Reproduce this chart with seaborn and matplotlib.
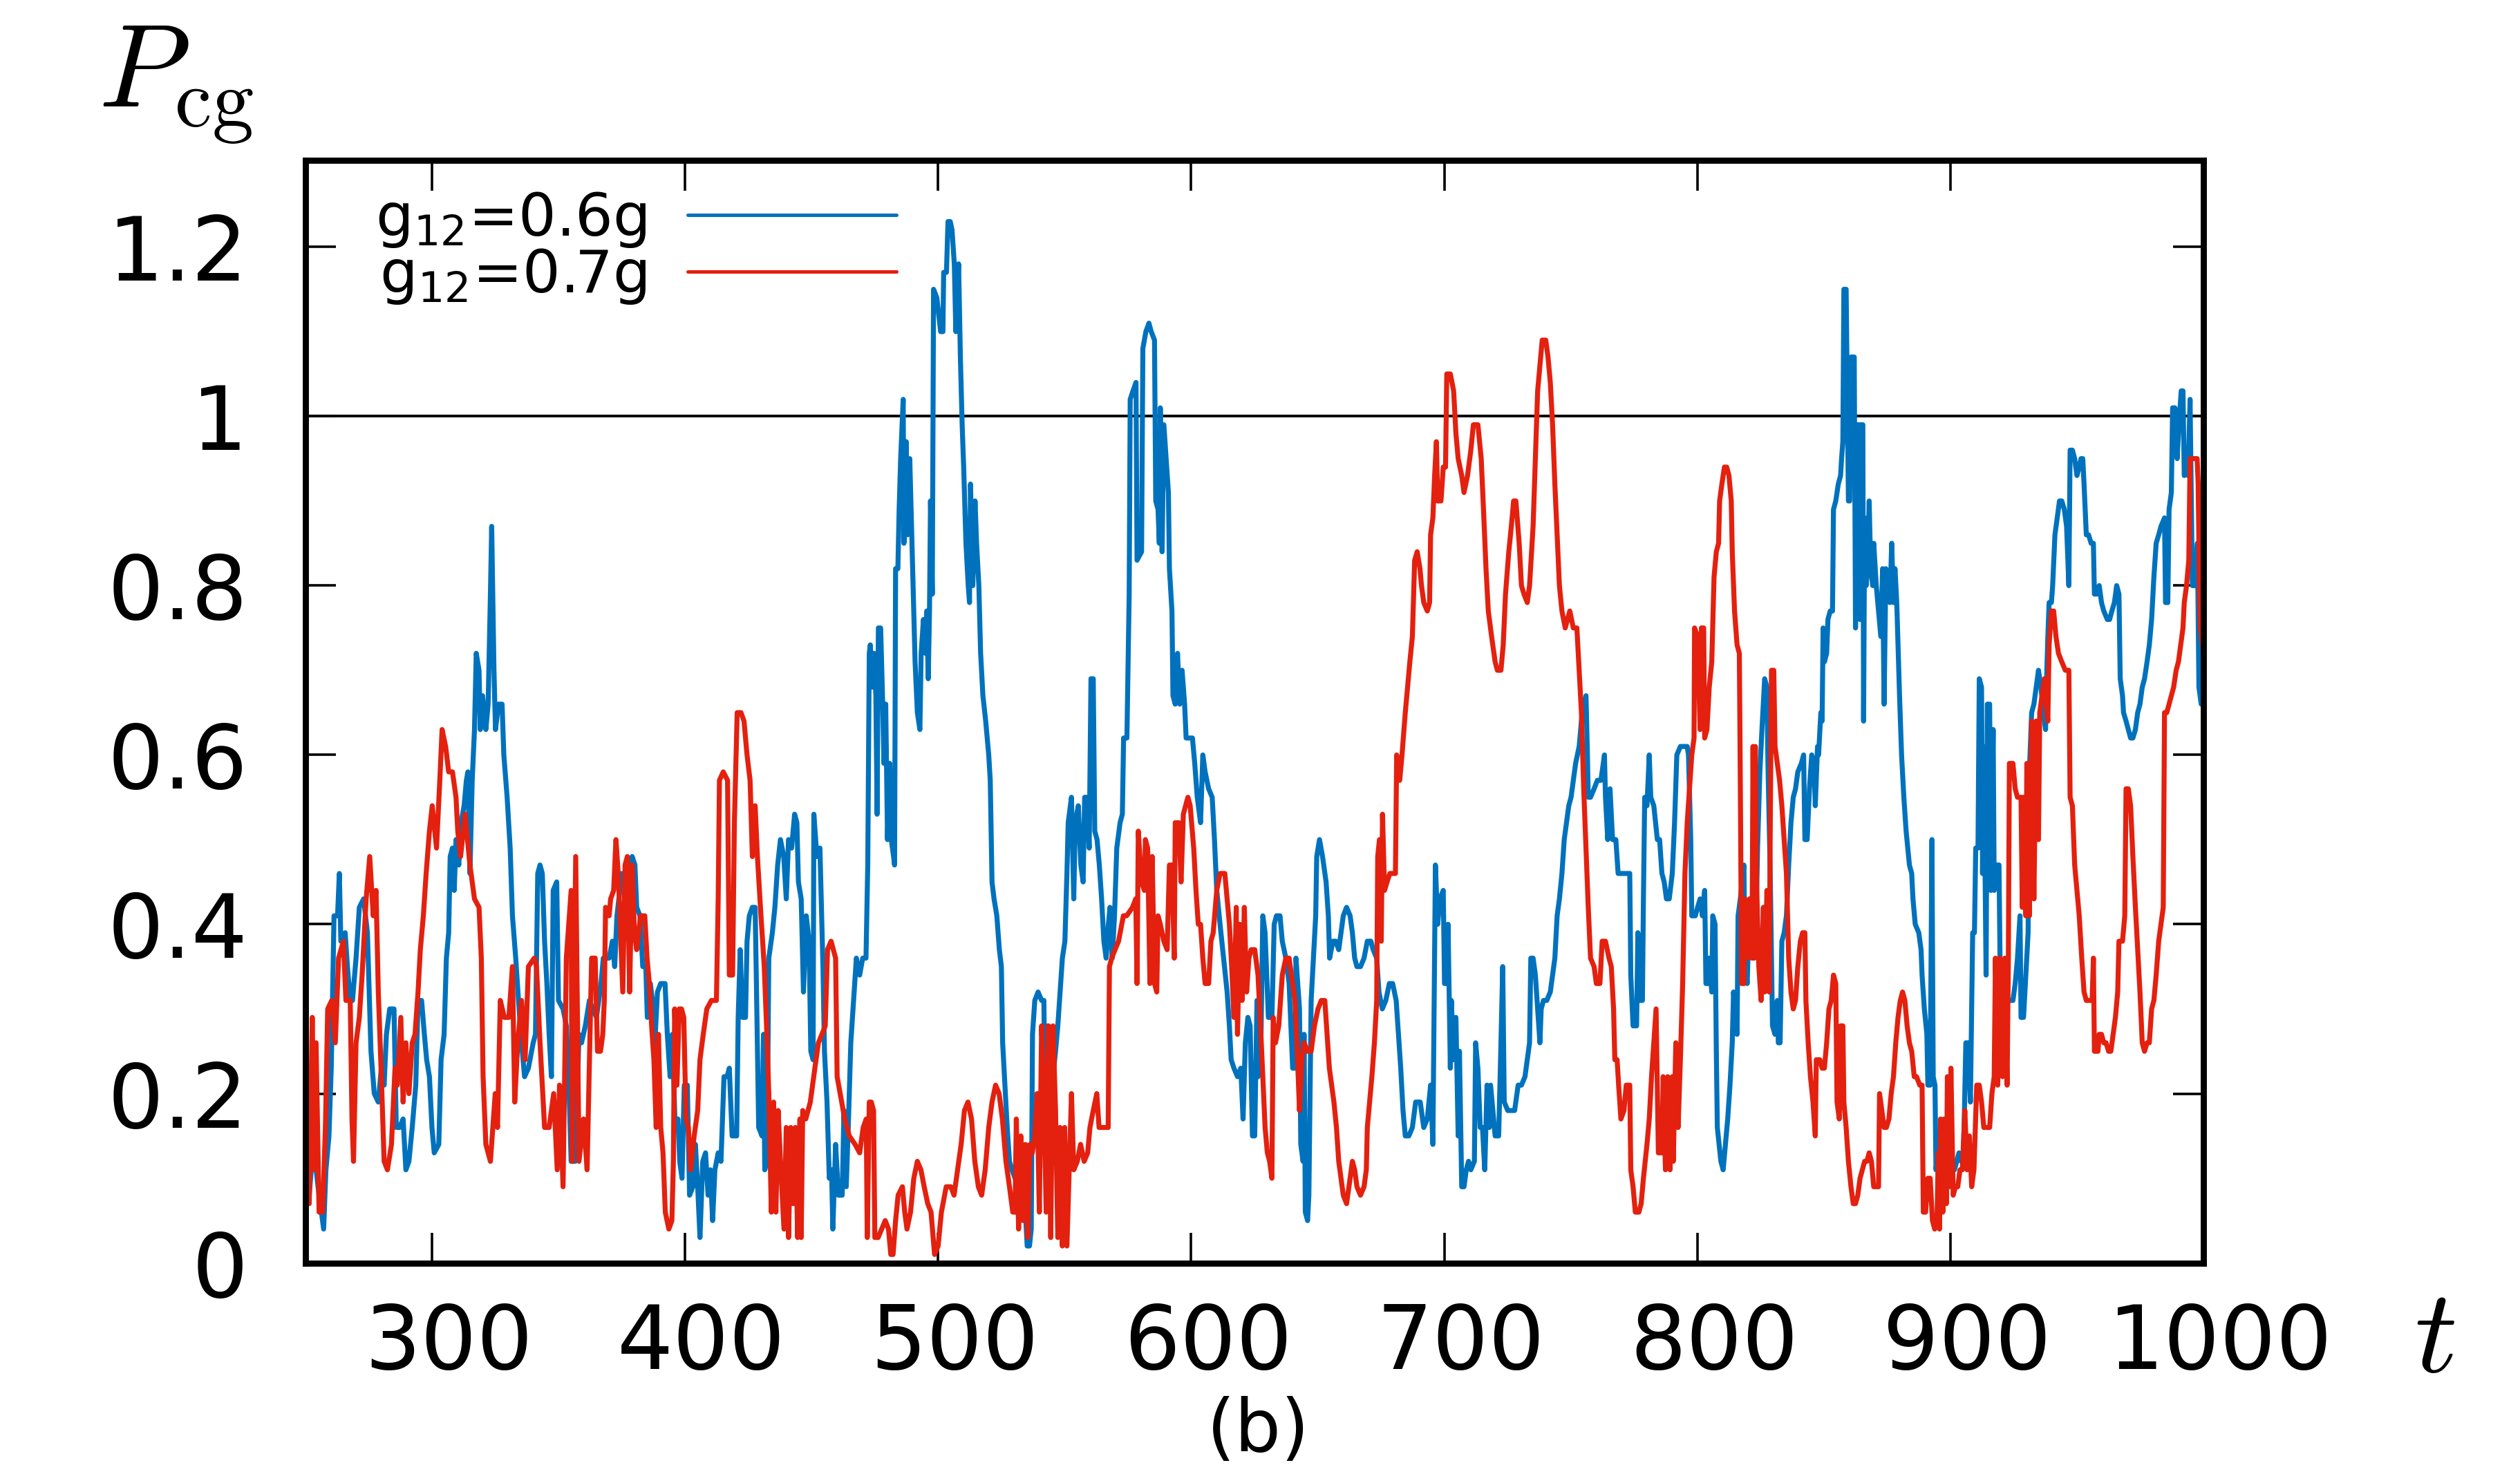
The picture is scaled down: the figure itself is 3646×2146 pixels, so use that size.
import matplotlib
matplotlib.use("Agg")
import matplotlib.pyplot as plt
import matplotlib.transforms as mtransforms
import pandas as pd
import seaborn as sns

# g12 = 0.6g (blue)
t_06 = [
    250.5, 251.5, 253.1, 255.0, 257.2, 258.1, 259.3, 260.2, 261.3, 262.7, 263.4, 264.0,
    265.7, 266.6, 267.7, 268.6, 270.0, 271.3, 273.0, 274.5, 275.9, 277.2, 278.8, 280.0,
    281.1, 282.0, 283.3, 285.0, 285.9, 287.2, 288.6, 289.7, 290.9, 292.2, 293.6, 294.5,
    295.9, 297.0, 297.9, 299.0, 300.0, 300.9, 302.7, 303.6, 304.8, 305.7, 306.6, 307.2,
    308.1, 308.8, 309.5, 310.6, 311.5, 312.7, 313.6, 314.2, 315.0, 315.9, 316.8, 317.5,
    318.6, 319.1, 320.0, 321.3, 322.2, 323.1, 323.6, 324.5, 325.1, 326.3, 327.7, 328.4,
    329.7, 330.9, 331.8, 333.1, 334.2, 335.4, 336.6, 338.1, 340.0, 340.9, 341.8, 342.7,
    343.6, 344.5, 345.4, 346.3, 347.2, 347.9, 349.3, 350.0, 351.8, 353.1, 354.0, 355.0,
    356.6, 358.1, 359.1, 360.6, 362.2,
    365.0, 366.8, 367.7, 370.0, 371.3, 372.2, 373.1, 375.0, 376.8, 378.1, 379.1, 380.2,
    380.9, 382.2, 383.3, 384.5, 385.1, 386.3, 387.5, 387.9, 389.1, 390.4, 392.1, 393.0,
    394.1, 395.0, 396.1, 397.2, 397.9, 398.8, 399.7, 400.9, 401.8, 403.1, 404.1, 405.0,
    405.9, 407.0, 408.1, 409.1, 410.0, 410.9, 411.8, 413.1, 414.2, 415.4, 416.6, 417.5,
    418.6, 420.4, 421.0, 421.8, 422.7, 423.9, 424.5, 425.4, 426.6, 427.7, 428.2, 429.1,
    430.4, 431.0, 431.5, 432.4, 433.1, 434.5, 435.5, 436.6, 437.7, 439.0, 440.0, 440.9,
    442.1, 443.3, 444.2, 444.8, 445.9, 446.8, 447.9, 449.0, 449.7, 450.6, 450.9, 452.1,
    453.3, 454.5, 455.1, 456.1, 457.0, 457.9, 458.4, 459.5, 460.6, 462.1, 462.8, 463.7,
    464.6, 465.5, 466.6, 467.7, 469.0, 470.2, 471.5, 472.2, 472.8,
    473.2, 474.1, 474.7, 475.4, 475.9, 476.4, 477.3, 478.2, 478.6, 479.3, 480.0, 480.9,
    481.5, 482.4, 482.8, 483.2, 484.1, 484.6, 485.2, 486.2, 486.5, 487.0, 487.4, 487.9,
    488.8, 489.5, 490.1, 490.9, 491.8, 492.8, 493.3, 494.2, 495.0, 495.5, 496.1, 496.6,
    497.0, 497.7, 498.2, 499.5, 501.0, 501.9, 502.2, 503.3, 503.9, 504.8, 505.5, 506.4,
    507.0, 507.5, 508.1, 508.8, 509.5, 510.1, 511.0, 511.9, 512.4, 512.8, 513.7, 514.6,
    515.2, 516.1, 516.8, 517.7, 518.8, 520.0, 520.6, 521.3, 522.1, 523.2, 524.2, 525.0,
    525.5, 526.4, 527.3, 528.2, 529.2, 530.4, 531.3, 532.2, 533.3, 534.5, 535.2, 536.1,
    536.8, 537.3, 538.2, 539.5, 540.9, 541.8, 542.2, 542.8, 543.3, 544.5, 545.4, 546.4,
    547.3, 548.2, 549.1, 550.1, 550.9, 551.4, 552.7, 553.6, 554.2, 555.4, 556.4, 557.3,
    557.9, 558.8, 559.7, 560.4, 561.3, 561.9, 562.8, 563.7, 564.6, 565.5, 566.4, 567.3,
    567.9, 568.8, 569.7, 570.6, 571.9, 572.8, 573.3, 574.6, 575.5, 575.9, 577.0, 578.2,
    578.6, 580.4, 580.9, 582.1,
    583.3, 584.2, 585.5, 586.0, 586.9, 587.4, 587.8, 588.5, 589.2, 590.1, 591.0,
    591.4, 592.4, 592.8, 593.7, 594.6, 595.5, 596.4, 597.4, 598.0, 599.2, 600.5, 601.4,
    602.4, 603.7, 604.6, 605.5, 606.9, 608.3, 609.2, 610.1, 611.4, 612.8, 614.2, 615.1,
    615.8, 616.9, 618.3, 619.6, 620.5, 621.4, 622.4, 623.3, 624.2, 625.1, 626.0, 626.4,
    627.4, 628.3, 629.2, 630.5, 631.9, 632.8, 633.7, 635.1, 636.0, 637.4, 638.7, 640.1,
    641.0, 641.4, 642.8, 643.3, 644.2, 644.6, 645.1, 646.0, 646.5, 647.4, 648.3, 649.2,
    649.6, 650.7, 651.9, 653.3, 654.2, 654.7, 656.0, 657.1, 658.3, 659.2, 660.1, 661.4,
    662.8, 663.7, 664.6, 665.5, 666.9, 668.3, 669.6, 671.0, 671.9, 673.3, 674.2, 675.5,
    676.9, 678.3, 679.6, 681.0, 681.9, 682.8, 683.7, 684.6, 686.0, 687.4, 688.7, 690.1,
    690.5, 691.9, 693.3, 694.6, 695.5, 696.5, 697.4, 698.3, 699.6, 700.1, 701.0, 701.5,
    702.4, 702.8, 703.7, 704.6, 705.5, 706.0, 706.9, 707.8, 708.7, 709.6, 710.5, 711.9,
    712.4, 713.3, 714.2, 715.1, 716.0, 716.9, 717.8, 718.3, 719.2, 720.1, 721.5, 722.4,
    723.1, 723.7, 725.1, 726.5, 727.8, 729.2, 730.5, 731.9, 732.8, 733.7, 734.2, 735.1,
    736.0, 736.9, 737.8, 738.3, 739.2, 740.5, 741.9, 742.8, 743.7, 744.6, 745.5, 746.5,
    747.4, 748.3, 749.2, 750.1, 751.0, 751.9, 753.3, 754.2, 755.1, 756.0, 756.5, 756.9,
    757.8, 759.2, 760.5, 761.9, 763.3, 763.7, 764.6, 765.5, 766.5, 767.8, 768.7, 770.5,
    771.9, 773.3, 773.7, 774.6, 776.0, 776.5, 776.9, 778.3, 778.7, 779.2, 780.1, 781.0,
    781.6, 782.8, 784.2, 785.1, 786.0, 786.9, 787.8, 788.9, 790.1, 791.0, 791.9, 793.3,
    794.6, 796.0, 796.5, 797.4, 797.8, 799.2, 800.1,
    801.1, 802.0, 802.9, 803.4, 804.3, 804.7, 805.7, 806.1, 807.0, 807.5, 807.9, 809.3,
    810.2, 811.1, 812.0, 812.9, 813.8, 814.3, 815.7, 816.1, 817.0, 818.4, 818.8, 819.7,
    820.7, 821.6, 822.5, 823.4, 823.8, 824.7, 825.7, 826.6, 827.5, 827.9, 828.8, 829.7,
    830.7, 831.6, 832.0, 832.7, 833.4, 834.3, 835.2, 836.1, 837.0, 837.9, 838.8, 839.7,
    841.1, 842.0, 842.5, 843.4, 844.3, 845.2, 846.1, 846.6, 847.5, 847.9, 848.8, 849.3,
    849.7, 850.2, 851.1, 851.6, 852.5, 853.4, 853.8, 854.7, 855.7, 856.6, 857.0, 857.5,
    857.9, 858.8, 859.7, 860.2, 860.7, 862.0, 862.5, 862.9, 863.8, 864.3, 864.7, 865.4,
    865.7, 866.1, 866.7, 867.2, 867.9, 868.5, 869.3, 869.7, 870.7, 871.6, 872.5, 873.2,
    873.8, 874.5, 875.4, 876.1, 876.8, 877.5, 878.1, 878.8, 879.4, 879.9, 880.7, 881.6,
    882.5, 883.8, 884.7, 885.2, 886.1, 887.5, 888.4, 888.8, 889.7, 890.7, 891.1, 892.0,
    892.7, 893.2, 893.9, 894.3, 895.2, 896.1, 897.0, 897.9, 898.8, 899.7, 900.7, 901.6,
    902.5, 903.4, 904.3, 905.2, 906.1, 907.0, 907.9, 908.8,
    909.5, 910.0, 910.9, 911.4, 912.3, 912.7, 913.2, 914.1, 914.6, 915.5, 916.0, 916.9,
    917.3, 918.3, 919.2, 919.6, 921.0, 921.9, 922.9, 923.8, 924.7, 925.6, 926.5, 927.5,
    927.9, 928.9, 929.8, 930.7, 931.2, 932.1, 933.0, 933.9, 934.8, 935.8, 936.7, 937.6,
    938.1, 938.5, 939.0, 939.9, 940.4, 941.3, 942.2, 943.1, 944.0, 945.0, 945.9, 946.8,
    947.3, 948.2, 949.1, 950.0, 950.9, 951.6, 952.3, 952.8, 953.7, 954.6, 955.6, 956.5,
    956.9, 957.9, 958.8, 959.7, 960.6, 962.0, 962.9, 963.8, 964.8, 965.7, 966.6, 967.1,
    968.0, 968.4, 969.4, 970.3, 971.2, 972.1, 973.1, 974.0, 974.9, 975.8, 976.7, 977.7,
    978.6, 979.5, 980.4, 981.3, 982.3, 983.2, 984.6, 985.0, 985.9, 986.4, 987.3, 987.8,
    988.7, 989.6, 990.5, 991.2, 991.9, 992.4, 993.3, 993.9, 994.7, 995.6, 996.7, 997.6,
    998.2, 999.1, 1000.0,
]
p_06 = [
    0.16, 0.08, 0.14, 0.09, 0.04, 0.11, 0.15, 0.23, 0.41, 0.41, 0.46, 0.38,
    0.39, 0.35, 0.31, 0.31, 0.36, 0.42, 0.43, 0.39, 0.25, 0.20, 0.19, 0.23,
    0.21, 0.27, 0.30, 0.30, 0.16, 0.16, 0.17, 0.11, 0.12, 0.16, 0.21, 0.31,
    0.31, 0.27, 0.24, 0.22, 0.16, 0.13, 0.14, 0.24, 0.27, 0.36, 0.39, 0.48,
    0.49, 0.44, 0.50, 0.47, 0.52, 0.54, 0.57, 0.58, 0.46, 0.57, 0.63, 0.72,
    0.70, 0.63, 0.67, 0.63, 0.66, 0.79, 0.87, 0.70, 0.63, 0.66, 0.66, 0.60,
    0.55, 0.49, 0.41, 0.36, 0.31, 0.26, 0.22, 0.23, 0.26, 0.27, 0.46, 0.47,
    0.46, 0.38, 0.33, 0.27, 0.22, 0.44, 0.45, 0.31, 0.30, 0.28, 0.22, 0.12,
    0.12, 0.27, 0.26, 0.28, 0.31,
    0.29, 0.33, 0.36, 0.36, 0.38, 0.35, 0.41, 0.46, 0.44, 0.42, 0.48, 0.47,
    0.42, 0.41, 0.35, 0.35, 0.29, 0.33, 0.30, 0.25, 0.32, 0.33, 0.33, 0.27,
    0.22, 0.27, 0.16, 0.17, 0.12, 0.10, 0.21, 0.21, 0.08, 0.09, 0.14, 0.09,
    0.03, 0.12, 0.13, 0.08, 0.11, 0.05, 0.11, 0.13, 0.12, 0.22, 0.22, 0.23,
    0.15, 0.15, 0.29, 0.37, 0.29, 0.29, 0.38, 0.41, 0.42, 0.42, 0.33, 0.16,
    0.15, 0.27, 0.11, 0.12, 0.36, 0.39, 0.42, 0.47, 0.50, 0.48, 0.43, 0.50,
    0.49, 0.53, 0.52, 0.45, 0.43, 0.32, 0.41, 0.38, 0.25, 0.24, 0.53, 0.48,
    0.49, 0.35, 0.25, 0.19, 0.10, 0.11, 0.04, 0.14, 0.08, 0.08, 0.18, 0.09,
    0.17, 0.26, 0.31, 0.36, 0.34, 0.36, 0.36, 0.47, 0.72,
    0.73, 0.68, 0.72, 0.67, 0.53, 0.75, 0.75, 0.65, 0.59, 0.66, 0.50, 0.59,
    0.50, 0.48, 0.47, 0.82, 0.82, 0.89, 0.95, 1.02, 0.85, 0.90, 0.97, 0.86,
    0.95, 0.87, 0.80, 0.71, 0.65, 0.63, 0.72, 0.76, 0.72, 0.77, 0.69, 0.77,
    0.90, 0.79, 1.15, 1.14, 1.10, 1.10, 1.17, 1.17, 1.23, 1.23, 1.22, 1.18,
    1.10, 1.14, 1.18, 1.07, 0.99, 0.94, 0.85, 0.80, 0.78, 0.92, 0.80, 0.90,
    0.85, 0.80, 0.72, 0.67, 0.64, 0.60, 0.57, 0.45, 0.43, 0.41, 0.37, 0.35,
    0.26, 0.21, 0.16, 0.12, 0.11, 0.10, 0.10, 0.06, 0.09, 0.06, 0.02, 0.02,
    0.04, 0.27, 0.31, 0.32, 0.31, 0.31, 0.19, 0.15, 0.28, 0.27, 0.22, 0.25,
    0.28, 0.32, 0.36, 0.38, 0.46, 0.52, 0.55, 0.43, 0.52, 0.54, 0.47, 0.45,
    0.55, 0.55, 0.49, 0.69, 0.69, 0.51, 0.50, 0.47, 0.43, 0.38, 0.36, 0.40,
    0.42, 0.36, 0.41, 0.49, 0.52, 0.53, 0.62, 0.62, 0.79, 1.02, 1.03, 1.04,
    0.83, 0.84, 1.08, 1.10,
    1.11, 1.10, 1.09, 0.90, 0.89, 0.85, 1.01, 0.84, 0.99, 0.95, 0.91,
    0.82, 0.77, 0.67, 0.66, 0.72, 0.66, 0.70, 0.66, 0.62, 0.62, 0.62, 0.59,
    0.55, 0.52, 0.60, 0.58, 0.56, 0.55, 0.50, 0.44, 0.40, 0.36, 0.32, 0.28,
    0.24, 0.23, 0.22, 0.23, 0.17, 0.26, 0.29, 0.28, 0.15, 0.15, 0.31, 0.22,
    0.23, 0.41, 0.39, 0.29, 0.29, 0.40, 0.41, 0.41, 0.38, 0.36, 0.33, 0.23,
    0.23, 0.36, 0.30, 0.14, 0.12, 0.27, 0.06, 0.05, 0.08, 0.31, 0.36, 0.41,
    0.48, 0.50, 0.48, 0.45, 0.41, 0.36, 0.38, 0.38, 0.37, 0.39, 0.41, 0.42,
    0.41, 0.39, 0.36, 0.35, 0.35, 0.36, 0.38, 0.38, 0.37, 0.36, 0.32, 0.30,
    0.31, 0.33, 0.33, 0.31, 0.27, 0.23, 0.18, 0.15, 0.15, 0.16, 0.19, 0.19,
    0.19, 0.16, 0.17, 0.21, 0.14, 0.47, 0.40, 0.43, 0.44, 0.33, 0.33, 0.40,
    0.23, 0.31, 0.24, 0.29, 0.15, 0.25, 0.09, 0.09, 0.11, 0.12, 0.11, 0.12,
    0.26, 0.23, 0.16, 0.16, 0.11, 0.21, 0.16, 0.21, 0.18, 0.15, 0.15, 0.26,
    0.35, 0.19, 0.18, 0.18, 0.18, 0.21, 0.21, 0.22, 0.24, 0.26, 0.36, 0.36,
    0.34, 0.30, 0.26, 0.30, 0.31, 0.31, 0.32, 0.34, 0.36, 0.41, 0.43, 0.46,
    0.50, 0.52, 0.54, 0.55, 0.57, 0.59, 0.61, 0.64, 0.66, 0.67, 0.61, 0.55,
    0.55, 0.56, 0.57, 0.57, 0.60, 0.55, 0.50, 0.56, 0.50, 0.50, 0.46, 0.46,
    0.46, 0.46, 0.34, 0.28, 0.28, 0.39, 0.31, 0.31, 0.43, 0.55, 0.54, 0.60,
    0.55, 0.54, 0.50, 0.50, 0.46, 0.45, 0.43, 0.43, 0.46, 0.52, 0.60, 0.61,
    0.61, 0.61, 0.60, 0.50, 0.41, 0.41, 0.42,
    0.43, 0.41, 0.44, 0.33, 0.33, 0.36, 0.32, 0.41, 0.40, 0.25, 0.16, 0.12,
    0.11, 0.14, 0.17, 0.21, 0.26, 0.32, 0.27, 0.41, 0.43, 0.47, 0.36, 0.33,
    0.43, 0.37, 0.40, 0.43, 0.49, 0.58, 0.64, 0.69, 0.68, 0.59, 0.46, 0.28,
    0.27, 0.31, 0.26, 0.26, 0.38, 0.39, 0.41, 0.47, 0.52, 0.55, 0.56, 0.58,
    0.59, 0.60, 0.50, 0.50, 0.56, 0.60, 0.59, 0.54, 0.61, 0.60, 0.65, 0.64,
    0.75, 0.71, 0.72, 0.76, 0.77, 0.77, 0.89, 0.90, 0.92, 0.93, 0.95, 0.97,
    1.15, 1.15, 0.90, 0.90, 1.07, 1.07, 0.75, 0.99, 0.99, 0.76, 0.99, 0.99,
    0.64, 0.88, 0.80, 0.82, 0.90, 0.82, 0.80, 0.85, 0.80, 0.77, 0.74, 0.82,
    0.66, 0.82, 0.81, 0.78, 0.85, 0.78, 0.82, 0.78, 0.72, 0.67, 0.60, 0.55,
    0.51, 0.47, 0.46, 0.43, 0.40, 0.39, 0.37, 0.34, 0.30, 0.27, 0.21, 0.21,
    0.50, 0.22, 0.21, 0.11, 0.14, 0.12, 0.11, 0.11, 0.10, 0.11, 0.11, 0.11,
    0.12, 0.13, 0.12, 0.13, 0.26, 0.26, 0.19, 0.39,
    0.39, 0.49, 0.49, 0.69, 0.68, 0.46, 0.61, 0.34, 0.66, 0.66, 0.44, 0.63,
    0.44, 0.47, 0.47, 0.36, 0.35, 0.32, 0.31, 0.31, 0.31, 0.33, 0.36, 0.41,
    0.29, 0.29, 0.34, 0.39, 0.58, 0.65, 0.66, 0.68, 0.70, 0.68, 0.65, 0.63,
    0.70, 0.74, 0.78, 0.78, 0.80, 0.86, 0.88, 0.90, 0.90, 0.89, 0.87, 0.80,
    0.96, 0.96, 0.95, 0.93, 0.94, 0.95, 0.95, 0.92, 0.86, 0.86, 0.85, 0.85,
    0.79, 0.79, 0.80, 0.78, 0.77, 0.76, 0.76, 0.77, 0.78, 0.80, 0.79, 0.69,
    0.67, 0.65, 0.64, 0.63, 0.62, 0.62, 0.63, 0.65, 0.66, 0.68, 0.69, 0.71,
    0.73, 0.76, 0.81, 0.85, 0.86, 0.87, 0.88, 0.78, 0.78, 0.89, 0.91, 1.01,
    1.01, 0.95, 1.00, 1.03, 1.03, 0.93, 0.94, 0.93, 1.02, 0.80, 0.80, 0.85,
    0.68, 0.66, 0.66,
]

# g12 = 0.7g (red)
t_07 = [
    250.5, 251.5, 252.7, 253.6, 254.2, 255.4, 256.8, 257.9, 258.8, 260.4, 261.8, 263.1,
    265.0, 266.0, 267.7, 268.4, 269.0, 270.0, 271.3, 272.4, 274.0, 275.4, 276.8, 277.9,
    278.8, 280.0, 281.1, 282.4, 284.0, 285.4, 286.3, 287.7, 288.6, 289.7, 290.9, 292.2,
    293.3, 294.5, 295.4, 296.6, 297.7, 299.0, 300.1, 301.8, 303.1, 304.0, 305.4, 306.6,
    308.1, 309.5, 310.2, 311.3, 313.1, 315.0, 316.8, 318.6, 319.5, 320.2, 321.3, 323.1,
    325.0, 325.9, 327.0, 328.6, 330.4, 331.8, 332.7, 333.9, 335.4, 336.8, 338.1, 340.4,
    341.3, 342.7, 344.5, 346.3, 348.1, 349.5, 350.4, 351.8, 353.1, 355.0, 355.4, 356.8,
    358.1, 359.9, 361.3, 363.1,
    364.5, 365.4, 366.6, 367.5, 368.1, 368.6, 370.0, 370.6, 371.8, 372.7, 373.6, 374.5,
    375.4, 376.3, 377.2, 378.1, 379.1, 380.0, 380.9, 382.4, 384.1, 385.0, 385.9, 386.8,
    387.7, 388.6, 389.5, 390.4, 391.3, 392.2, 393.6, 394.8, 395.4, 395.9, 396.8, 397.7,
    398.6, 399.5, 400.4, 401.3, 402.2, 403.6, 405.0, 405.9, 407.2, 408.6, 410.4, 412.4,
    413.1, 413.6, 415.1, 416.8, 417.5, 418.8, 419.5, 420.6, 422.1, 423.3, 424.5, 425.7,
    426.6, 427.7, 428.6, 430.0, 431.3, 432.2, 433.1, 434.1, 435.0, 435.9, 436.8, 437.7,
    439.1, 440.0, 440.9, 441.8, 442.7, 443.6, 444.5, 445.4, 445.9, 446.5, 447.7, 449.5,
    451.3, 452.7, 454.1, 455.4, 456.3, 457.7, 459.5, 460.1, 461.3, 463.1, 464.9, 467.2,
    469.0, 470.4, 471.6, 472.0, 472.8,
    473.6, 474.5, 475.0, 476.3, 477.7, 479.1, 480.4, 481.3, 482.2, 483.2, 484.2, 485.9,
    486.8, 487.7, 489.1, 490.4, 491.8, 493.2, 494.5, 495.9, 497.2, 498.6, 500.0, 501.3,
    503.2, 505.0, 506.3, 507.7, 509.1, 510.4, 511.8, 513.2, 514.5, 515.9, 517.2, 518.6,
    520.0, 521.3, 522.7, 524.1, 525.4, 526.8, 528.2, 529.5, 530.4, 530.9, 531.8, 532.7,
    533.6, 534.5, 535.4, 536.3, 537.2, 538.2, 539.1, 540.0, 540.9, 541.8, 542.7, 543.6,
    544.5, 545.4, 546.4, 547.3, 548.2, 549.1, 550.0, 550.9, 551.8, 552.7, 553.6, 555.0,
    556.3, 557.7, 559.1, 560.0, 561.3, 562.7, 563.6, 564.5, 565.9, 567.2, 567.7, 568.6,
    569.9, 571.3, 573.2, 574.5, 576.8, 578.1, 578.6, 579.1, 580.4, 581.5,
    581.9, 582.8, 583.7, 584.6, 585.5, 586.4, 586.9, 587.8, 589.2, 590.5, 591.4, 592.4,
    593.3, 593.7, 595.1, 596.0, 596.9, 598.7, 599.6, 601.0, 601.9, 602.8, 603.7, 604.6,
    605.5, 606.9, 607.8, 608.7, 610.1, 611.4, 613.3, 614.2, 615.1, 616.0, 616.9, 617.8,
    618.3, 619.2, 620.1, 621.0, 621.9, 622.8, 623.7, 625.1, 626.4, 627.4, 628.3, 629.2,
    630.1, 631.0, 631.9, 632.4, 633.3, 634.6, 636.0, 637.4, 638.7, 639.6, 641.0, 641.9,
    642.8, 643.7, 644.6, 646.0, 647.4, 648.7, 650.1, 651.4, 652.8, 653.7, 654.6, 655.5,
    656.4, 657.4, 658.3, 659.2, 660.1, 661.4, 662.8, 663.7, 664.6, 665.5, 666.9, 668.3,
    669.2, 669.6, 670.5, 671.4, 672.4, 673.3, 673.7, 674.4, 675.1, 675.6, 676.4, 677.4,
    678.5, 679.6, 680.7, 681.2, 682.4, 683.3, 684.6, 685.5, 686.4, 687.4, 688.3, 689.3,
    690.4,
    691.0, 691.9, 693.3, 694.2, 694.6, 695.5, 696.2, 696.9, 697.4, 698.7, 699.6, 700.5,
    701.0, 702.4, 703.7, 704.6, 705.5, 706.9, 707.8, 709.2, 710.5, 711.5, 712.4, 713.3,
    714.6, 715.5, 716.5, 717.4, 718.7, 720.1, 721.0, 722.4, 723.3, 724.2, 725.5, 726.5,
    727.4, 728.3, 729.6, 730.5, 731.5, 732.8, 733.7, 735.1, 736.0, 736.9, 737.8, 738.7,
    740.1, 741.0, 741.9, 742.8, 743.7, 744.6, 745.5, 746.5, 747.8, 749.6, 751.0, 752.4,
    753.3, 754.2, 755.1, 756.0, 756.9, 757.8, 759.2, 760.1, 761.5, 762.4, 763.7, 765.1,
    766.0, 766.9, 767.4, 768.3, 768.9, 769.8, 771.0, 771.9, 773.3, 773.7, 774.6, 775.5,
    776.9, 777.8, 778.7, 780.1, 781.0, 781.9, 782.8, 783.7, 784.6, 786.0, 786.5, 787.4,
    788.3, 789.2, 790.1, 790.5, 791.5, 792.4, 793.3, 794.2, 795.1, 796.0, 796.9, 797.8,
    798.7, 798.9, 800.1,
    801.1, 801.6, 802.5, 802.9, 803.8, 804.7, 805.7, 806.6, 807.5, 808.4, 808.8, 809.7,
    810.7, 811.6, 812.5, 813.4, 813.8, 814.7, 815.7, 816.6, 817.0, 817.5, 818.4, 818.8,
    819.7, 820.7, 821.6, 822.0, 822.5, 822.9, 823.4, 824.3, 825.2, 826.1, 826.6, 827.5,
    828.4, 828.8, 829.3, 830.2, 830.7, 831.6, 832.5, 833.4, 834.3, 835.2, 836.1, 837.0,
    837.9, 838.8, 839.7, 840.7, 841.6, 842.5, 842.9, 843.8, 844.7, 845.7, 846.6, 847.0,
    848.4, 849.3, 850.2, 851.1, 852.0, 852.9, 853.8, 854.7, 855.2, 856.1, 856.6, 857.5,
    857.9, 858.8, 859.7, 860.7, 861.6, 862.5, 863.4, 864.3, 865.2, 866.1, 867.0, 867.9,
    868.8, 869.7, 870.7, 871.6, 872.0, 872.9, 873.8, 874.7, 875.7, 876.6, 877.5, 878.4,
    879.3, 880.2, 881.1, 882.0, 882.9, 883.8, 884.7, 885.7, 886.6, 887.9, 888.8, 889.3,
    890.2, 891.1, 892.0, 892.9, 893.8, 894.7, 895.2, 895.7, 896.1, 897.0, 897.5, 898.4,
    898.8, 899.7, 900.2, 901.1, 902.0, 902.9, 903.8, 904.7, 905.7, 906.6, 907.5, 908.4,
    909.3,
    910.4, 911.4, 912.3, 913.2, 914.6, 915.5, 916.4, 917.3, 917.8, 918.7, 919.6, 920.6,
    921.5, 922.4, 922.9, 923.3, 924.7, 925.6, 926.5, 927.9, 928.4, 928.9, 929.8, 930.2,
    931.2, 932.1, 933.0, 933.9, 934.8, 935.3, 936.2, 937.1, 937.6, 938.5, 939.0, 939.9,
    940.8, 941.7, 942.7, 944.0, 945.4, 946.8, 947.3, 948.2, 949.1, 950.0, 950.9, 951.9,
    952.8, 953.7, 954.6, 956.0, 956.5, 956.9, 958.3, 958.8, 959.7, 960.6, 961.5, 962.5,
    963.4, 964.3, 965.2, 966.1, 966.6, 968.0, 968.9, 969.4, 970.3, 971.2, 972.1, 973.1,
    974.0, 974.9, 975.8, 976.7, 977.7, 978.6, 979.5, 980.4, 981.3, 982.3, 983.2, 984.1,
    984.6, 985.5, 986.4, 987.3, 988.2, 989.2, 990.1, 991.0, 991.9, 992.4, 993.3, 994.2,
    994.7, 995.6, 996.5, 997.5, 997.9, 998.4, 998.8, 1000.0,
]
p_07 = [
    0.09, 0.07, 0.29, 0.11, 0.26, 0.06, 0.06, 0.16, 0.30, 0.31, 0.26, 0.36,
    0.38, 0.31, 0.31, 0.17, 0.12, 0.26, 0.29, 0.34, 0.43, 0.48, 0.41, 0.44,
    0.32, 0.22, 0.12, 0.11, 0.14, 0.23, 0.21, 0.29, 0.19, 0.26, 0.20, 0.26,
    0.27, 0.32, 0.37, 0.41, 0.46, 0.51, 0.54, 0.49, 0.57, 0.63, 0.61, 0.58,
    0.58, 0.55, 0.51, 0.48, 0.53, 0.47, 0.43, 0.42, 0.36, 0.22, 0.14, 0.12,
    0.20, 0.16, 0.31, 0.29, 0.29, 0.35, 0.19, 0.26, 0.31, 0.24, 0.35, 0.36,
    0.35, 0.26, 0.16, 0.16, 0.20, 0.11, 0.21, 0.09, 0.36, 0.44, 0.12, 0.48,
    0.12, 0.17, 0.11, 0.36,
    0.36, 0.25, 0.25, 0.27, 0.31, 0.42, 0.41, 0.43, 0.44, 0.50, 0.46, 0.39,
    0.32, 0.47, 0.48, 0.32, 0.47, 0.39, 0.37, 0.41, 0.41, 0.36, 0.33, 0.28,
    0.24, 0.16, 0.27, 0.16, 0.13, 0.06, 0.04, 0.05, 0.12, 0.30, 0.21, 0.30,
    0.30, 0.29, 0.17, 0.16, 0.11, 0.15, 0.18, 0.24, 0.27, 0.30, 0.31, 0.31,
    0.43, 0.57, 0.58, 0.57, 0.34, 0.34, 0.52, 0.65, 0.65, 0.64, 0.60, 0.57,
    0.48, 0.54, 0.48, 0.41, 0.35, 0.28, 0.20, 0.06, 0.19, 0.06, 0.18, 0.12,
    0.04, 0.16, 0.03, 0.16, 0.07, 0.16, 0.03, 0.17, 0.03, 0.18, 0.17, 0.19,
    0.23, 0.26, 0.27, 0.28, 0.37, 0.38, 0.36, 0.22, 0.20, 0.17, 0.15, 0.14,
    0.13, 0.16, 0.17, 0.03, 0.19,
    0.19, 0.18, 0.03, 0.03, 0.04, 0.05, 0.04, 0.01, 0.01, 0.05, 0.08, 0.09,
    0.06, 0.04, 0.06, 0.10, 0.12, 0.11, 0.09, 0.07, 0.06, 0.01, 0.02, 0.06,
    0.09, 0.09, 0.08, 0.11, 0.14, 0.18, 0.19, 0.17, 0.12, 0.09, 0.08, 0.11,
    0.16, 0.19, 0.21, 0.20, 0.17, 0.12, 0.09, 0.06, 0.06, 0.17, 0.04, 0.15,
    0.05, 0.14, 0.03, 0.14, 0.13, 0.15, 0.20, 0.06, 0.28, 0.20, 0.06, 0.28,
    0.03, 0.28, 0.18, 0.03, 0.16, 0.02, 0.16, 0.02, 0.11, 0.20, 0.11, 0.12,
    0.14, 0.12, 0.13, 0.16, 0.18, 0.20, 0.16, 0.16, 0.16, 0.16, 0.35, 0.36,
    0.37, 0.38, 0.41, 0.41, 0.42, 0.43, 0.33, 0.51, 0.45, 0.44,
    0.50, 0.49, 0.33, 0.48, 0.33, 0.32, 0.41, 0.40, 0.38, 0.37, 0.47, 0.47,
    0.36, 0.52, 0.52, 0.45, 0.53, 0.55, 0.54, 0.49, 0.44, 0.40, 0.40, 0.36,
    0.33, 0.33, 0.38, 0.39, 0.44, 0.46, 0.46, 0.43, 0.40, 0.35, 0.29, 0.42,
    0.27, 0.40, 0.31, 0.42, 0.32, 0.36, 0.37, 0.37, 0.34, 0.28, 0.22, 0.16,
    0.13, 0.12, 0.10, 0.29, 0.26, 0.28, 0.34, 0.36, 0.36, 0.34, 0.31, 0.25,
    0.18, 0.24, 0.26, 0.25, 0.25, 0.28, 0.30, 0.31, 0.31, 0.27, 0.23, 0.21,
    0.19, 0.16, 0.12, 0.10, 0.08, 0.07, 0.10, 0.12, 0.11, 0.09, 0.08, 0.09,
    0.11, 0.16, 0.19, 0.22, 0.26, 0.31, 0.48, 0.50, 0.38, 0.53, 0.44, 0.45,
    0.46, 0.46, 0.46, 0.60, 0.57, 0.60, 0.65, 0.68, 0.71, 0.74, 0.83, 0.84,
    0.82,
    0.80, 0.78, 0.77, 0.78, 0.86, 0.88, 0.93, 0.97, 0.90, 0.90, 0.94, 0.94,
    1.05, 1.05, 1.03, 0.98, 0.95, 0.93, 0.91, 0.93, 0.96, 0.99, 0.99, 0.99,
    0.95, 0.89, 0.82, 0.77, 0.74, 0.71, 0.70, 0.70, 0.73, 0.79, 0.84, 0.87,
    0.90, 0.90, 0.85, 0.80, 0.79, 0.78, 0.80, 0.87, 0.95, 1.03, 1.06, 1.09,
    1.09, 1.07, 1.04, 0.99, 0.92, 0.86, 0.80, 0.77, 0.75, 0.77, 0.75, 0.75,
    0.70, 0.65, 0.56, 0.49, 0.42, 0.36, 0.35, 0.33, 0.33, 0.38, 0.38, 0.36,
    0.35, 0.30, 0.24, 0.24, 0.21, 0.17, 0.18, 0.21, 0.21, 0.11, 0.09, 0.06,
    0.06, 0.07, 0.10, 0.14, 0.17, 0.22, 0.26, 0.30, 0.13, 0.13, 0.22, 0.11,
    0.22, 0.11, 0.22, 0.12, 0.26, 0.16, 0.24, 0.33, 0.46, 0.52, 0.56, 0.60,
    0.62, 0.75, 0.74,
    0.63, 0.75, 0.75, 0.62, 0.63, 0.68, 0.71, 0.81, 0.84, 0.85, 0.90, 0.92,
    0.94, 0.94, 0.93, 0.90, 0.84, 0.77, 0.73, 0.72, 0.56, 0.33, 0.33, 0.43,
    0.36, 0.43, 0.36, 0.61, 0.36, 0.61, 0.45, 0.35, 0.31, 0.42, 0.32, 0.44,
    0.32, 0.51, 0.70, 0.70, 0.61, 0.59, 0.57, 0.54, 0.50, 0.46, 0.36, 0.32,
    0.30, 0.31, 0.35, 0.38, 0.39, 0.39, 0.31, 0.26, 0.22, 0.19, 0.15, 0.24,
    0.24, 0.23, 0.23, 0.26, 0.30, 0.31, 0.34, 0.33, 0.19, 0.17, 0.28, 0.28,
    0.19, 0.16, 0.12, 0.09, 0.07, 0.07, 0.08, 0.10, 0.11, 0.12, 0.12, 0.13,
    0.12, 0.09, 0.09, 0.09, 0.20, 0.18, 0.16, 0.16, 0.17, 0.20, 0.22, 0.26,
    0.29, 0.31, 0.32, 0.31, 0.28, 0.26, 0.25, 0.22, 0.22, 0.21, 0.21, 0.06,
    0.06, 0.10, 0.10, 0.05, 0.04, 0.05, 0.13, 0.04, 0.17, 0.06, 0.17, 0.07,
    0.22, 0.09, 0.23, 0.08, 0.09, 0.09, 0.11, 0.11, 0.18, 0.11, 0.15, 0.09,
    0.11,
    0.21, 0.21, 0.19, 0.16, 0.16, 0.16, 0.20, 0.22, 0.36, 0.21, 0.36, 0.22,
    0.36, 0.21, 0.36, 0.59, 0.59, 0.56, 0.55, 0.55, 0.42, 0.55, 0.41, 0.59,
    0.41, 0.64, 0.43, 0.64, 0.50, 0.65, 0.67, 0.69, 0.67, 0.64, 0.73, 0.77,
    0.77, 0.74, 0.72, 0.71, 0.70, 0.70, 0.55, 0.54, 0.47, 0.44, 0.41, 0.36,
    0.32, 0.31, 0.31, 0.31, 0.36, 0.25, 0.25, 0.27, 0.27, 0.26, 0.26, 0.25,
    0.25, 0.27, 0.29, 0.32, 0.38, 0.38, 0.41, 0.56, 0.56, 0.54, 0.48, 0.42,
    0.37, 0.32, 0.26, 0.25, 0.26, 0.26, 0.30, 0.31, 0.34, 0.38, 0.40, 0.42,
    0.65, 0.65, 0.66, 0.67, 0.68, 0.70, 0.71, 0.73, 0.75, 0.78, 0.80, 0.83,
    0.95, 0.95, 0.95, 0.95, 0.92, 0.80, 0.75, 0.72,
]

series_labels = ["g$_{12}$=0.6g", "g$_{12}$=0.7g"]
series_colors = ["#0072bd", "#e4200f"]
x_ticks = [300, 400, 500, 600, 700, 800, 900, 1000]
y_ticks = [0, 0.2, 0.4, 0.6, 0.8, 1, 1.2]

df = pd.concat([
    pd.DataFrame({"t": t_06, "P": p_06, "series": series_labels[0]}),
    pd.DataFrame({"t": t_07, "P": p_07, "series": series_labels[1]}),
], ignore_index=True)

sns.set_style("ticks")
plt.rcParams["font.family"] = ["DejaVu Sans"]
plt.rcParams.update({
    "text.color": "black",
    "axes.edgecolor": "black",
    "xtick.color": "black",
    "ytick.color": "black",
})

fig = plt.figure(figsize=(18.23, 10.73), dpi=200)
ax = fig.add_axes([0.1212, 0.1484, 0.7532, 0.7433])

sns.lineplot(data=df, x="t", y="P", hue="series", palette=series_colors,
             estimator=None, sort=False, lw=2.6, legend=False, ax=ax)
series_lines = list(ax.lines[:2])

ax.axhline(1.0, color="black", lw=1.4, zorder=1)

ax.set_xlim(250, 1000)
ax.set_ylim(0, 1.302)
ax.set_xticks(x_ticks)
ax.set_yticks(y_ticks)
ax.set_yticklabels(["%g" % v for v in y_ticks])
ax.set_xlabel("")
ax.set_ylabel("")
ax.tick_params(direction="in", length=16, width=1.3, labelsize=46,
               top=True, right=True)
ax.tick_params(axis="y", pad=30)
ax.tick_params(axis="x", pad=20)
for sp in ax.spines.values():
    sp.set_linewidth(3.2)

# gnuplot puts the x tick labels slightly right of their ticks
shift = mtransforms.ScaledTranslation(0.12, 0, fig.dpi_scale_trans)
for lab in ax.get_xticklabels():
    lab.set_transform(lab.get_transform() + shift)

leg = ax.legend(series_lines, series_labels, loc="upper left",
                bbox_to_anchor=(0.021, 1.0), frameon=False,
                markerfirst=False, handlelength=3.5, handletextpad=0.7,
                labelspacing=-0.05, borderpad=0, prop={"size": 31})
for h in leg.legend_handles:
    h.set_linewidth(1.8)

fig.text(0.039, 0.928, r"$P_{\rm cg}$", fontsize=62, math_fontfamily="cm")
fig.text(0.958, 0.075, r"$t$", fontsize=62, math_fontfamily="cm")
fig.text(0.4994, 0.035, "(b)", ha="center", va="center", fontsize=38)

fig.savefig("out.png", dpi=200)
